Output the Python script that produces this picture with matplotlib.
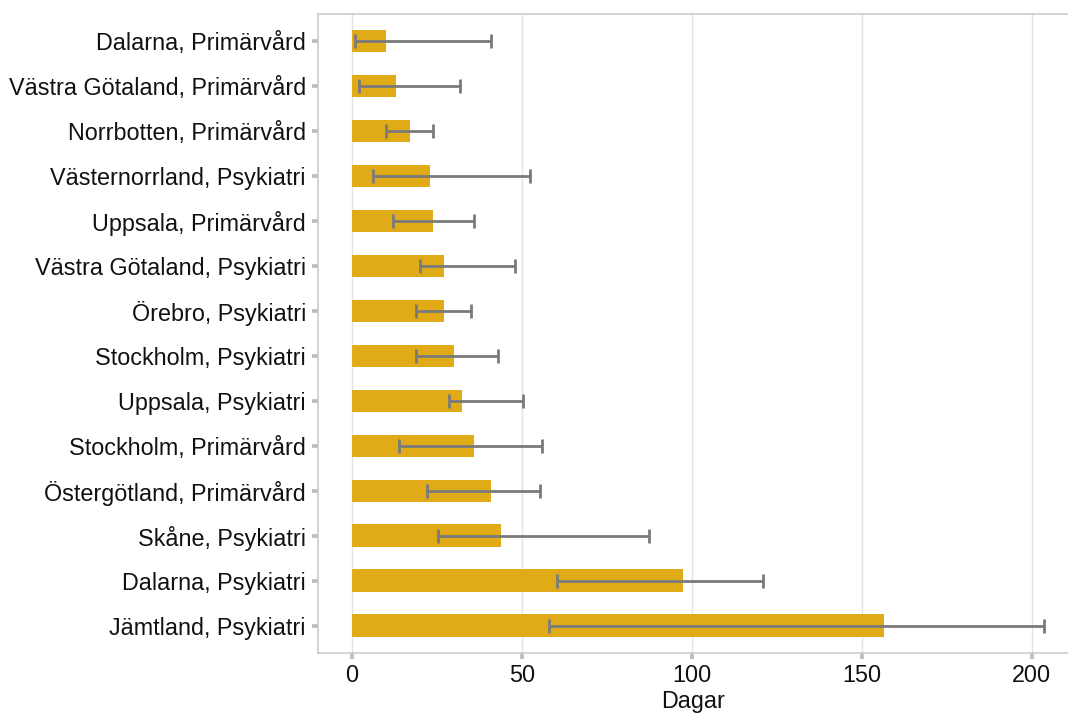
import numpy as np
import matplotlib
matplotlib.use("Agg")
import matplotlib.pyplot as plt

plt.rcParams['font.family'] = ['Liberation Sans', 'DejaVu Sans']

# Data (top to bottom as in the chart)
labels = ["Dalarna, Primärvård", "Västra Götaland, Primärvård", "Norrbotten, Primärvård",
          "Västernorrland, Psykiatri", "Uppsala, Primärvård", "Västra Götaland, Psykiatri",
          "Örebro, Psykiatri", "Stockholm, Psykiatri", "Uppsala, Psykiatri",
          "Stockholm, Primärvård", "Östergötland, Primärvård", "Skåne, Psykiatri",
          "Dalarna, Psykiatri", "Jämtland, Psykiatri"]
dagar = [10, 13, 17, 23, 24, 27, 27, 30, 32.4, 36, 41, 44, 97.5, 156.5]
ci_low = [1, 2, 10, 6.3, 12, 20, 19, 19, 28.7, 14, 22, 25.4, 60.5, 58]
ci_high = [41, 31.7, 24, 52.4, 36, 48, 35, 43, 50.3, 56, 55.4, 87.4, 121, 203.7]
x_ticks = [0, 50, 100, 150, 200]

fig = plt.figure(figsize=(10.68, 7.13), dpi=100)
ax = fig.add_axes([0.2973, 0.0846, 0.7027, 0.8958])

y = np.arange(len(labels))
vals = np.array(dagar)
err = np.array([vals - np.array(ci_low), np.array(ci_high) - vals])

ax.barh(y, vals, height=0.5, color="#E0AB16", zorder=2)
# capsize is half the cap length
ax.errorbar(vals, y, xerr=err, fmt="none", ecolor="#7a7a7a", elinewidth=2,
            capsize=4.7, capthick=2, zorder=3)

ax.set_ylim(len(labels) - 0.4, -0.6)
ax.set_xlim(-10.1, 210.7)
ax.set_yticks(y)
ax.set_yticklabels(labels, fontsize=16.8, color="#111111")
ax.set_xticks(x_ticks)
ax.set_xticklabels([str(t) for t in x_ticks], fontsize=16.8, color="#111111")
ax.set_xlabel("Dagar", fontsize=16.8, color="#111111", labelpad=2)

ax.grid(axis="x", color="#e3e3e3", linewidth=1, zorder=0)
ax.tick_params(axis="both", color="#bdbdbd", length=4.3, width=2.7, pad=4)
for side in ["left", "top", "bottom"]:
    ax.spines[side].set_color("#cccccc")
    ax.spines[side].set_linewidth(1.2)
ax.spines["right"].set_visible(False)

fig.savefig("out.png", dpi=100)
